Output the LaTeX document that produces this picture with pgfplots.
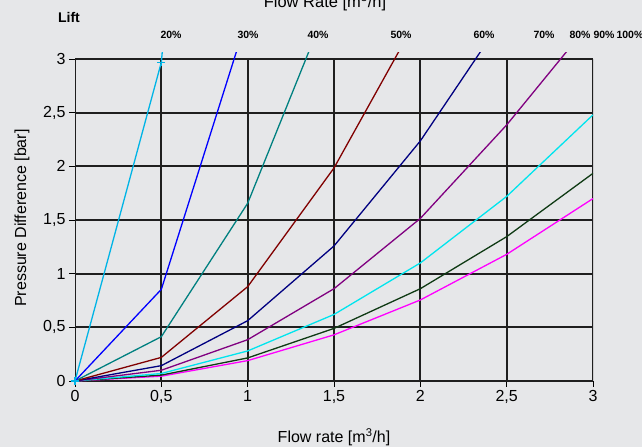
\documentclass[border=0pt]{standalone}
\usepackage{fontspec}
\setmainfont{Liberation Sans}
\usepackage{pgfplots}
\pgfplotsset{compat=1.18}
\definecolor{bg}{HTML}{E6E7E9}
\definecolor{cA}{HTML}{00B4E6}
\definecolor{cB}{HTML}{0000FF}
\definecolor{cC}{HTML}{008080}
\definecolor{cD}{HTML}{800000}
\definecolor{cE}{HTML}{000080}
\definecolor{cF}{HTML}{800080}
\definecolor{cG}{HTML}{00E5EE}
\definecolor{cH}{HTML}{0F3A14}
\definecolor{cI}{HTML}{FF00FF}
\begin{document}
\begin{tikzpicture}[x=1pt,y=1pt]
\fill[bg] (0,0) rectangle (642,447);
\begin{axis}[
  at={(75pt,66pt)}, anchor=south west,
  scale only axis, width=518pt, height=328.4pt,
  xmin=0, xmax=3, ymin=0, ymax=3.06,
  enlargelimits=false,
  axis line style={draw=none},
  xtick={0,0.5,1,1.5,2,2.5,3},
  ytick={0,0.5,1,1.5,2,2.5,3},
  xtick pos=bottom, ytick pos=left,
  tick align=outside, major tick length=6pt,
  tick style={black, line width=1pt},
  ticklabel style={font=\fontsize{16}{19}\selectfont},
  /pgf/number format/.cd, use comma, assume math mode=true, 1000 sep={},
  /pgfplots/.cd,
  xlabel={Flow rate [m\textsuperscript{3}/h]},
  ylabel={Pressure Difference [bar]},
  label style={font=\fontsize{16}{19}\selectfont},
  xlabel style={at={(axis description cs:0.5,-0.1705)}, anchor=center},
  ylabel style={at={(axis description cs:-0.1023,0.496)}, anchor=center},
  every axis plot/.append style={line width=1.3pt, mark=none},
]
% grid
\draw[black!88, line width=1.9pt] (axis cs:0,0) -- (axis cs:3,0);
\draw[black!88, line width=1.9pt] (axis cs:0,0.5) -- (axis cs:3,0.5);
\draw[black!88, line width=1.9pt] (axis cs:0,1) -- (axis cs:3,1);
\draw[black!88, line width=1.9pt] (axis cs:0,1.5) -- (axis cs:3,1.5);
\draw[black!88, line width=1.9pt] (axis cs:0,2) -- (axis cs:3,2);
\draw[black!88, line width=1.9pt] (axis cs:0,2.5) -- (axis cs:3,2.5);
\draw[black!88, line width=1.9pt] (axis cs:0,3) -- (axis cs:3,3);
\draw[black!88, line width=1.9pt] (axis cs:0,0) -- (axis cs:0,3);
\draw[black!88, line width=1.9pt] (axis cs:0.5,0) -- (axis cs:0.5,3);
\draw[black!88, line width=1.9pt] (axis cs:1,0) -- (axis cs:1,3);
\draw[black!88, line width=1.9pt] (axis cs:1.5,0) -- (axis cs:1.5,3);
\draw[black!88, line width=1.9pt] (axis cs:2,0) -- (axis cs:2,3);
\draw[black!88, line width=1.9pt] (axis cs:2.5,0) -- (axis cs:2.5,3);
\draw[black!88, line width=1.9pt] (axis cs:3,0) -- (axis cs:3,3);
% 100%
\addplot[cI] coordinates {(0,0) (0.5,0.045) (1,0.19) (1.5,0.43) (2,0.755) (2.5,1.18) (3,1.70)};
% 90%
\addplot[cH] coordinates {(0,0) (0.5,0.055) (1,0.215) (1.5,0.49) (2,0.86) (2.5,1.345) (3,1.935)};
% 80%
\addplot[cG] coordinates {(0,0) (0.5,0.07) (1,0.28) (1.5,0.62) (2,1.10) (2.5,1.72) (3,2.48)};
% 70%
\addplot[cF] coordinates {(0,0) (0.5,0.10) (1,0.385) (1.5,0.86) (2,1.515) (2.5,2.386) (3,3.37)};
% 60%
\addplot[cE] coordinates {(0,0) (0.5,0.143) (1,0.562) (1.5,1.258) (2,2.237) (2.5,3.43)};
% 50%
\addplot[cD] coordinates {(0,0) (0.5,0.22) (1,0.879) (1.5,1.985) (2,3.43)};
% 40%
\addplot[cC] coordinates {(0,0) (0.5,0.413) (1,1.656) (1.5,3.65)};
% 30%
\addplot[cB] coordinates {(0,0) (0.5,0.854) (1,3.4)};
% 20%
\addplot[cA, mark=+, mark size=4pt, mark indices={1,2}, mark options={line width=1.5pt}] coordinates {(0,0) (0.5,2.97) (1,11.9)};
\end{axis}
% top labels
\node[font=\fontsize{14}{16}\selectfont\bfseries] at (69,430) {Lift};
\node[font=\fontsize{16.5}{19}\selectfont, anchor=base] at (325,439) {Flow Rate [m\textsuperscript{3}/h]};
\begin{scope}[every node/.style={font=\fontsize{10.5}{12}\selectfont\bfseries, anchor=west}]
\node at (157,412.5) {20\%};
\node at (234,412.5) {30\%};
\node at (304,412.5) {40\%};
\node at (387,412.5) {50\%};
\node at (470,412.5) {60\%};
\node at (530,412.5) {70\%};
\node at (566,412.5) {80\%};
\node at (590,412.5) {90\%};
\node at (613,412.5) {100\%};
\end{scope}
\pgfresetboundingbox
\useasboundingbox (0,0) rectangle (642,447);
\end{tikzpicture}
\end{document}
